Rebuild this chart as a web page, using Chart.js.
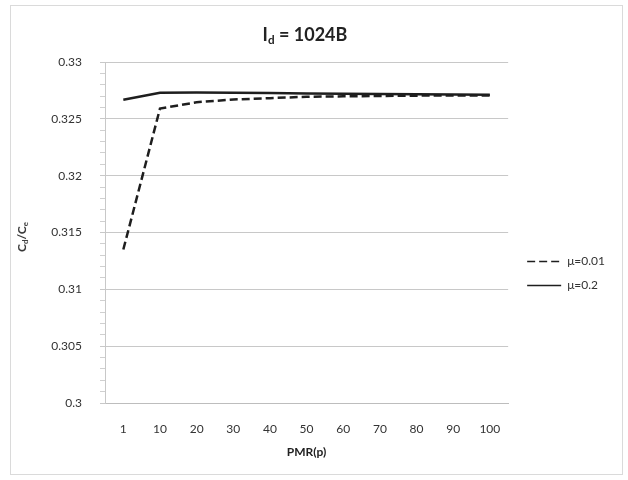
<!DOCTYPE html>
<html>
<head>
<meta charset="utf-8">
<script src="https://cdn.jsdelivr.net/npm/chart.js@4/dist/chart.umd.min.js"></script>
<style>
    body { margin: 0; background: #fff; }
    #wrap { position: relative; width: 628px; height: 480px; }
    #frame { position: absolute; left: 10px; top: 5px; width: 611px; height: 468px; border: 1px solid #dadada; }
    #title { position: absolute; left: 0; width: 610px; top: 23px; text-align: center;
             font: bold 18px "Lato", "Open Sans", sans-serif; color: #222; }
    #title sub, #ytitle sub { font-size: 65%; vertical-align: -0.25em; }
    #ytitle { position: absolute; left: 22px; top: 237px; transform: translate(-50%, -50%) rotate(-90deg);
              font: bold 12px "Lato", "Open Sans", sans-serif; color: #333; white-space: nowrap; }
    canvas { position: absolute; left: 0; top: 0; }
</style>
</head>
<body>
<div id="wrap">
    <div id="frame"></div>
    <canvas id="chart" width="628" height="480"></canvas>
    <div id="title">I<sub>d</sub> = 1024B</div>
    <div id="ytitle">C<sub>d</sub>/C<sub>e</sub></div>
</div>
<script>
// values
const pmr = ['1', '10', '20', '30', '40', '50', '60', '70', '80', '90', '100'];
const mu001 = [0.3135, 0.3259, 0.32646, 0.3267, 0.32682, 0.32694, 0.32698, 0.32701, 0.32704, 0.32706, 0.32706];
const mu02 = [0.32668, 0.32729, 0.32732, 0.32729, 0.32727, 0.32723, 0.3272, 0.32718, 0.32716, 0.32714, 0.32712];
const yTickLabels = ['0.3', '0.305', '0.31', '0.315', '0.32', '0.325', '0.33'];

const isMajor = v => Math.abs(Math.round(v * 200) - v * 200) < 1e-6;
const font = 'Lato, "Open Sans", sans-serif';

new Chart(document.getElementById('chart'), {
    type: 'line',
    data: {
        labels: pmr,
        datasets: [
            { label: 'μ=0.01', data: mu001, borderColor: '#1e1e1e', borderWidth: 2.5, borderDash: [8, 4], pointRadius: 0, tension: 0 },
            { label: 'μ=0.2', data: mu02, borderColor: '#1e1e1e', borderWidth: 2.5, pointRadius: 0, tension: 0 }
        ]
    },
    options: {
        responsive: false,
        animation: false,
        layout: { padding: { left: 40, top: 62, bottom: 21, right: 20 } },
        plugins: {
            title: { display: false },
            tooltip: { enabled: false },
            legend: {
                position: 'right',
                labels: {
                    usePointStyle: true,
                    pointStyle: 'line',
                    pointStyleWidth: 34,
                    color: '#333',
                    font: { family: font, size: 12 },
                    padding: 12,
                    // point style drops the dash, so copy it back from the dataset
                    generateLabels: chart => Chart.defaults.plugins.legend.labels.generateLabels(chart).map(item => {
                        const ds = chart.data.datasets[item.datasetIndex];
                        item.lineDash = ds.borderDash || [];
                        item.lineWidth = 1.5;
                        return item;
                    })
                }
            }
        },
        scales: {
            x: {
                offset: true,
                grid: { display: false },
                border: { display: true, color: '#bdbdbd' },
                ticks: { color: '#333', font: { family: font, size: 12 }, padding: 11, maxRotation: 0 },
                title: { display: true, text: 'PMR(p)', color: '#222', font: { family: font, size: 12, weight: 'bold' }, padding: { top: 12, bottom: 0 } },
                afterFit: s => { s.height = 56; }
            },
            y: {
                min: 0.3,
                max: 0.33,
                ticks: {
                    stepSize: 0.001,
                    autoSkip: false,
                    color: '#333',
                    font: { family: font, size: 12 },
                    padding: 18,
                    callback: v => isMajor(v) ? yTickLabels[Math.round((v - 0.3) * 200)] : ''
                },
                grid: {
                    color: ctx => isMajor(ctx.tick.value) ? '#c8c8c8' : 'rgba(0,0,0,0)',
                    tickColor: ctx => isMajor(ctx.tick.value) ? '#c8c8c8' : '#d0d0d0',
                    tickLength: 5
                },
                border: { display: true, color: '#c8c8c8' },
                afterFit: s => { s.width = 65; }
            }
        }
    },
    plugins: [{
        // nudge the legend down and right to where it sits in the picture
        id: 'legendShift',
        afterUpdate(chart) {
            const lg = chart.legend;
            lg.top += 13; lg.bottom += 13;
            lg.left += 7; lg.right += 7;
            lg.legendHitBoxes.forEach(b => { b.top += 13; b.left += 7; });
        }
    }]
});
</script>
</body>
</html>
